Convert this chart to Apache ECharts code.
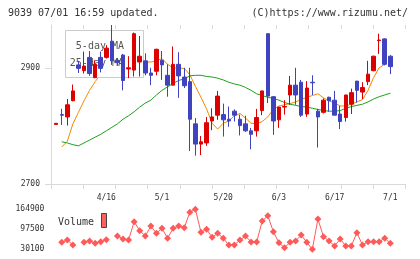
<!DOCTYPE html>
<html>
<head>
<meta charset="utf-8">
<script src="https://cdn.jsdelivr.net/npm/echarts@6/dist/echarts.min.js"></script>
<style>
html, body { margin: 0; padding: 0; background: #fff; }
#main { width: 420px; height: 259px; }
</style>
</head>
<body>
<div id="main"></div>
<script>
// trading days shown on the chart
var dates = ['4/3','4/4','4/5','4/8','4/9','4/10','4/11','4/12','4/15','4/16',
  '4/17','4/18','4/19','4/22','4/23','4/24','4/25','4/26','4/30','5/1',
  '5/2','5/7','5/8','5/9','5/10','5/13','5/14','5/15','5/16','5/17',
  '5/20','5/21','5/22','5/23','5/24','5/27','5/28','5/29','5/30','5/31',
  '6/3','6/4','6/5','6/6','6/7','6/10','6/11','6/12','6/13','6/14',
  '6/17','6/18','6/19','6/20','6/21','6/24','6/25','6/26','6/27','6/28','7/1'];
var tickLabels = ['4/16', '5/1', '5/20', '6/3', '6/17', '7/1'];
var priceTicks = [2700, 2900];
var volumeTicks = [30100, 97500, 164900];

var opens = [2803,2820,2816,2844,2906,2896,2919,2884,2919,2919,
  2947,2914,2923,2899,2897,2911,2913,2892,2895,2914,
  2888,2871,2907,2885,2877,2804,2769,2771,2809,2819,
  2820,2812,2826,2812,2804,2792,2792,2827,2960,2851,
  2811,2833,2854,2871,2876,2821,2876,2826,2824,2850,
  2845,2821,2815,2838,2878,2859,2877,2896,2948,2951,2921];
var closes = [2805,2819,2837,2861,2900,2904,2891,2907,2900,2935,
  2913,2910,2879,2901,2960,2921,2892,2888,2933,2906,
  2871,2907,2887,2870,2812,2769,2773,2806,2816,2852,
  2811,2809,2819,2801,2792,2786,2815,2861,2852,2809,
  2833,2834,2871,2854,2819,2866,2875,2816,2845,2844,
  2819,2808,2854,2858,2862,2867,2890,2921,2949,2907,2903];
var lows = [2803,2802,2801,2843,2892,2891,2887,2883,2893,2917,
  2906,2905,2862,2883,2886,2886,2888,2871,2888,2880,
  2851,2871,2849,2866,2757,2749,2750,2766,2793,2811,
  2782,2799,2808,2784,2790,2760,2782,2819,2840,2785,
  2797,2820,2837,2837,2816,2816,2854,2763,2822,2825,
  2819,2795,2808,2821,2841,2847,2871,2895,2925,2905,2890];
var highs = [2805,2830,2847,2872,2913,2929,2930,2914,2929,2940,
  2975,2918,2925,2921,2962,2956,2926,2901,2934,2930,
  2907,2938,2928,2901,2901,2814,2783,2816,2831,2861,
  2839,2834,2829,2820,2818,2797,2830,2861,2961,2852,
  2833,2845,2887,2901,2880,2878,2888,2830,2848,2851,
  2861,2835,2854,2865,2878,2876,2913,2922,2960,2952,2923];

var ma5 = [null,2764,2774,2804,2824,2844,2862,2877,2890,2898,
  2905,2910,2908,2907,2910,2914,2911,2911,2913,2917,
  2907,2901,2900,2900,2889,2869,2850,2830,2805,2795,
  2805,2809,2818,2822,2814,2805,2804,2808,2816,2829,
  2835,2837,2839,2842,2846,2850,2853,2856,2849,2844,
  2840,2835,2835,2838,2842,2846,2862,2884,2901,2907,null];
var ma25 = [null,2773,2771,2768,2766,2771,2776,2781,2786,2792,
  2798,2804,2812,2818,2825,2833,2840,2845,2854,2862,
  2868,2874,2879,2882,2887,2888,2888,2886,2885,2883,
  2880,2876,2873,2871,2867,2862,2856,2853,2850,2848,
  2845,2841,2838,2836,2834,2833,2831,2829,2827,2826,
  2826,2827,2831,2834,2836,2838,2842,2847,2851,2854,2857];

var volumes = [null,53700,61400,44600,null,53700,58100,50300,55700,62500,
  null,74900,64800,61400,123100,92800,74900,108600,84000,100900,
  67200,100900,108600,102900,154800,164900,87400,97500,70500,84000,
  67200,44600,44600,61400,74900,54700,54700,125500,143300,89400,
  52300,35500,53700,58100,78300,53700,30100,132200,72600,58100,
  41200,64800,41200,41200,86000,44600,55700,55700,55700,67200,50300];

var candles = [];
for (var i = 0; i < dates.length; i++) {
  candles.push([opens[i], closes[i], lows[i], highs[i]]);
}

var mono = 'DejaVu Sans Mono';
var axisGray = '#d9d9d9';
var textColor = '#333';
var plain = function (v) { return String(v); };

var chart = echarts.init(document.getElementById('main'));
var option = {
  animation: false,
  backgroundColor: '#fff',
  textStyle: { fontFamily: mono },
  grid: [
    // frame: axis lines and ticks
    { left: 51, right: 14.7, top: 25, bottom: 75, containLabel: false, outerBoundsMode: 'none' },
    // price data
    { left: 53.4, right: 26.9, top: 25, bottom: 75, containLabel: false, outerBoundsMode: 'none' },
    // volume
    { left: 53.4, right: 26.9, top: 209.3, height: 40, containLabel: false, outerBoundsMode: 'none' }
  ],
  xAxis: [
    {
      type: 'value', gridIndex: 0, min: 0, max: 11, interval: 1,
      axisLine: { show: true, lineStyle: { color: axisGray } },
      axisTick: { show: true, length: 5, lineStyle: { color: axisGray } },
      axisLabel: { show: false },
      splitLine: { show: false }
    },
    {
      type: 'category', gridIndex: 1, data: dates, boundaryGap: true,
      axisLine: { show: false },
      axisTick: { show: false },
      axisLabel: {
        interval: function (idx, value) { return tickLabels.indexOf(value) >= 0; },
        fontSize: 8, color: textColor, fontFamily: mono, margin: 10
      },
      splitLine: { show: false }
    },
    {
      type: 'category', gridIndex: 2, data: dates, boundaryGap: true,
      show: false
    },
    {
      type: 'value', gridIndex: 0, min: 0, max: 11, interval: 1,
      axisLine: { show: false },
      axisTick: { show: true, inside: true, length: 4, lineStyle: { color: axisGray } },
      axisLabel: { show: false },
      splitLine: { show: false }
    }
  ],
  yAxis: [
    {
      type: 'value', gridIndex: 0, min: 2700, max: 2975,
      axisLine: { show: true, lineStyle: { color: axisGray } },
      axisTick: { show: true, length: 6, customValues: priceTicks, lineStyle: { color: axisGray } },
      axisLabel: { customValues: priceTicks, formatter: plain, fontSize: 8, color: textColor, fontFamily: mono, margin: 11 },
      splitLine: { show: false }
    },
    {
      type: 'value', gridIndex: 1, min: 2700, max: 2975, show: false,
      splitLine: { show: false }
    },
    {
      type: 'value', gridIndex: 2, min: 30100, max: 164900,
      axisLine: { show: false },
      axisTick: { show: false },
      axisLabel: { customValues: volumeTicks, formatter: plain, fontSize: 8, color: textColor, fontFamily: mono, margin: 9 },
      splitLine: { show: false }
    }
  ],
  graphic: [
    { type: 'text', left: 8, top: 8, z: 10,
      style: { text: '9039 07/01 16:59 updated.', fill: textColor, font: '10px ' + mono } },
    { type: 'text', right: 12, top: 8, z: 10,
      style: { text: '(C)https://www.rizumu.net/', fill: textColor, font: '10px ' + mono } },
    { type: 'rect', z: 2, shape: { x: 65.5, y: 30.5, width: 78, height: 47 },
      style: { fill: '#fff', stroke: '#cccccc', lineWidth: 1 } },
    { type: 'text', z: 2, x: 124, y: 46,
      style: { text: '5-day MA', fill: '#555', font: '10px ' + mono, align: 'right', verticalAlign: 'middle' } },
    { type: 'text', z: 2, x: 124, y: 63,
      style: { text: '25-day MA', fill: '#555', font: '10px ' + mono, align: 'right', verticalAlign: 'middle' } },
    { type: 'text', z: 10, x: 58, y: 222,
      style: { text: 'Volume', fill: textColor, font: '10px ' + mono, verticalAlign: 'middle' } },
    { type: 'rect', z: 10, shape: { x: 101.5, y: 213.5, width: 5, height: 14 },
      style: { fill: '#ff6060', stroke: '#444', lineWidth: 1 } }
  ],
  series: [
    {
      name: '5-day MA', type: 'line', xAxisIndex: 1, yAxisIndex: 1, z: 1,
      data: ma5, symbol: 'none', connectNulls: false,
      lineStyle: { color: '#f28a00', width: 1 }, itemStyle: { color: '#f28a00' }
    },
    {
      name: '25-day MA', type: 'line', xAxisIndex: 1, yAxisIndex: 1, z: 1,
      data: ma25, symbol: 'none', connectNulls: false,
      lineStyle: { color: '#1ea01e', width: 1 }, itemStyle: { color: '#1ea01e' }
    },
    {
      name: 'price', type: 'candlestick', xAxisIndex: 1, yAxisIndex: 1, z: 5,
      data: candles, barWidth: 4,
      itemStyle: {
        color: '#dd0000', color0: '#4043bf',
        borderColor: '#dd0000', borderColor0: '#4043bf', borderWidth: 1
      }
    },
    {
      name: 'Volume', type: 'line', xAxisIndex: 2, yAxisIndex: 2, z: 5,
      data: volumes, connectNulls: false, smooth: false,
      symbol: 'diamond', symbolSize: 7, showAllSymbol: true,
      lineStyle: { color: '#ff5a5a', width: 1 },
      itemStyle: { color: '#ff5a5a' }
    }
  ]
};
chart.setOption(option);
</script>
</body>
</html>
